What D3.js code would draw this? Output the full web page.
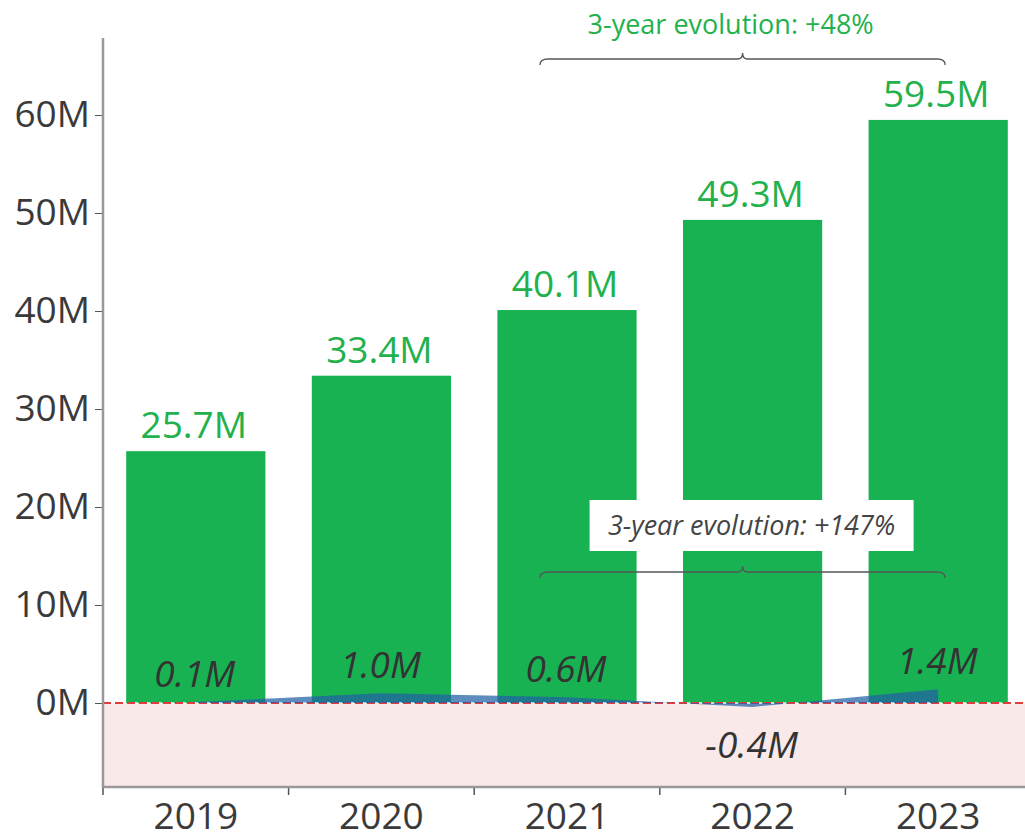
<!DOCTYPE html>
<html>
<head>
<meta charset="utf-8">
<script src="https://cdn.jsdelivr.net/npm/d3@7"></script>
<style>
  body { margin: 0; background: #fff; }
  svg { display: block; font-family: "Open Sans", sans-serif; }
  .tick text { fill: #3a3a3a; }
</style>
</head>
<body>
<svg id="chart" width="1025" height="833"></svg>
<script>
// Data
const years = ["2019", "2020", "2021", "2022", "2023"];
const revenue = [25.7, 33.4, 40.1, 49.3, 59.5];
const netIncome = [0.1, 1.0, 0.6, -0.4, 1.4];
const yTicks = [0, 10, 20, 30, 40, 50, 60];
const revenueNote = "3-year evolution: +48%";
const incomeNote = "3-year evolution: +147%";

const svg = d3.select("#chart");
const margin = { top: 38, right: -6, bottom: 46, left: 103 };
const W = 1025, H = 833;

const x = d3.scaleBand().domain(years)
    .range([margin.left, W - margin.right])
    .paddingInner(0.25).paddingOuter(0.125);
const y = d3.scaleLinear().domain([-8.57, 67.86])
    .range([H - margin.bottom, margin.top]);

const green = "#18b252";
const cx = d => x(d) + x.bandwidth() / 2;

// Negative zone
svg.append("rect")
    .attr("x", margin.left).attr("width", W - margin.left)
    .attr("y", y(0)).attr("height", y(-8.57) - y(0))
    .attr("fill", "#f9e9e9");

// Bars
svg.append("g").selectAll("rect").data(years).join("rect")
    .attr("x", d => x(d))
    .attr("width", x.bandwidth())
    .attr("y", (d, i) => y(revenue[i]))
    .attr("height", (d, i) => y(0) - y(revenue[i]))
    .attr("fill", green);

// Bar labels
svg.append("g").selectAll("text").data(years).join("text")
    .attr("x", d => cx(d) - 2)
    .attr("y", (d, i) => y(revenue[i]) - 13)
    .attr("text-anchor", "middle")
    .attr("font-size", 37)
    .attr("fill", "#22b14c")
    .text((d, i) => revenue[i].toFixed(1) + "M");

// Zero line
svg.append("line")
    .attr("x1", margin.left).attr("x2", W)
    .attr("y1", y(0)).attr("y2", y(0))
    .attr("stroke", "#e03c3c").attr("stroke-width", 2)
    .attr("stroke-dasharray", "8,4");

// Net income area
const area = d3.area()
    .x((d, i) => cx(years[i]))
    .y0(y(0))
    .y1(d => y(d));
svg.append("path")
    .datum(netIncome)
    .attr("d", area)
    .attr("fill", "#215fa5")
    .attr("fill-opacity", 0.72);

// white gaps of the dashed zero line stay visible on top
svg.append("line")
    .attr("x1", margin.left + 8).attr("x2", W)
    .attr("y1", y(0)).attr("y2", y(0))
    .attr("stroke", "#fff").attr("stroke-width", 2).attr("stroke-opacity", 0.7)
    .attr("stroke-dasharray", "3,9");

// Net income labels
svg.append("g").selectAll("text").data(years).join("text")
    .attr("x", d => cx(d) - 1)
    .attr("y", (d, i) => netIncome[i] < 0 ? y(netIncome[i]) + 51 : y(netIncome[i]) - 15)
    .attr("text-anchor", "middle")
    .attr("font-size", 37)
    .attr("font-style", "italic")
    .attr("fill", "#333")
    .text((d, i) => netIncome[i].toFixed(1) + "M");

// Axes
const yAxis = svg.append("g")
    .attr("transform", `translate(${margin.left},0)`)
    .call(d3.axisLeft(y).tickValues(yTicks).tickFormat(d => d + "M").tickSize(8).tickPadding(5));
yAxis.select(".domain").remove();
yAxis.selectAll(".tick line").attr("stroke", "#555");
yAxis.selectAll("text").attr("font-size", 37).attr("font-family", "Open Sans");

const xAxis = svg.append("g")
    .attr("transform", `translate(0,${H - margin.bottom})`)
    .call(d3.axisBottom(x).tickSize(0).tickPadding(16));
xAxis.select(".domain").remove();
xAxis.selectAll("text").attr("font-size", 37).attr("font-family", "Open Sans").attr("dy", "0.71em");

// Band boundary ticks on x axis
svg.append("g").selectAll("line").data(years.concat(["end"])).join("line")
    .attr("x1", (d, i) => margin.left + i * x.step())
    .attr("x2", (d, i) => margin.left + i * x.step())
    .attr("y1", H - margin.bottom).attr("y2", H - margin.bottom + 8)
    .attr("stroke", "#555").attr("stroke-width", 1.5);

// Axis lines
svg.append("line")
    .attr("x1", margin.left).attr("x2", margin.left)
    .attr("y1", margin.top).attr("y2", H - margin.bottom)
    .attr("stroke", "#999").attr("stroke-width", 2.5);
svg.append("line")
    .attr("x1", margin.left).attr("x2", W)
    .attr("y1", H - margin.bottom).attr("y2", H - margin.bottom)
    .attr("stroke", "#999").attr("stroke-width", 2.5);

// Curly brackets
function bracket(x0, x1, yb) {
  const m = (x0 + x1) / 2, r = 5;
  return `M${x0},${yb + 6} Q${x0},${yb} ${x0 + r + 3},${yb}`
    + ` L${m - 5},${yb} Q${m},${yb} ${m},${yb - 6}`
    + ` Q${m},${yb} ${m + 5},${yb}`
    + ` L${x1 - r - 3},${yb} Q${x1},${yb} ${x1},${yb + 6}`;
}
const bx0 = cx("2021") - 27, bx1 = cx("2023") + 7;
const bm = (bx0 + bx1) / 2;

svg.append("path").attr("d", bracket(bx0, bx1, 59))
    .attr("fill", "none").attr("stroke", "#555").attr("stroke-width", 1.3);
svg.append("text")
    .attr("x", bm - 12).attr("y", 34)
    .attr("text-anchor", "middle")
    .attr("font-size", 27).attr("fill", "#22b14c")
    .text(revenueNote);

svg.append("path").attr("d", bracket(bx0, bx1, 572))
    .attr("fill", "none").attr("stroke", "#555").attr("stroke-width", 1.3);
svg.append("rect")
    .attr("x", bm - 153).attr("y", 500)
    .attr("width", 324).attr("height", 51)
    .attr("fill", "#fff");
svg.append("text")
    .attr("x", bm + 9).attr("y", 535)
    .attr("text-anchor", "middle")
    .attr("font-size", 27).attr("font-style", "italic").attr("fill", "#444")
    .text(incomeNote);
</script>
</body>
</html>
